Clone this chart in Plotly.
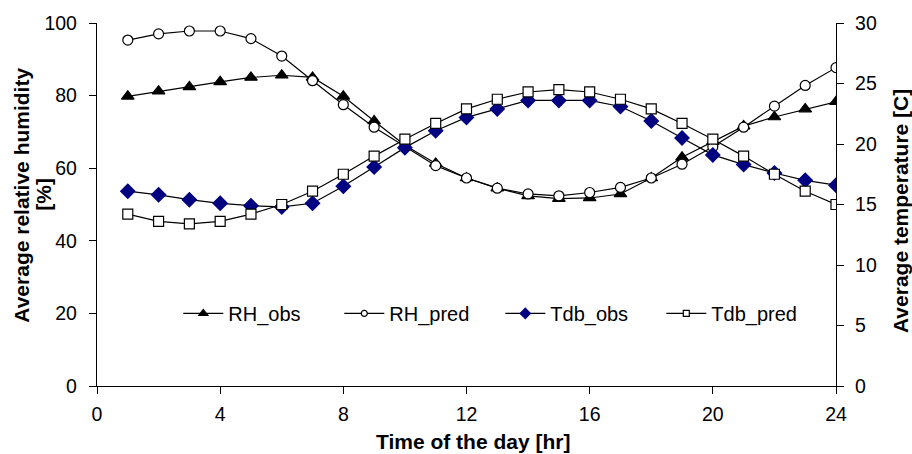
import plotly.graph_objects as go

hours = list(range(1, 25))
rh_obs = [79.8, 81.2, 82.4, 83.8, 85.0, 85.6, 85.0, 79.8, 73.0, 66.3, 61.3, 57.3,
          54.5, 52.4, 51.6, 51.8, 52.9, 57.3, 63.0, 67.3, 71.6, 74.1, 76.3, 78.3]
rh_pred = [95.3, 97.0, 97.8, 97.8, 95.7, 90.9, 84.1, 77.5, 71.3, 66.0, 60.7, 57.3,
           54.5, 52.9, 52.4, 53.3, 54.7, 57.3, 61.1, 65.9, 71.3, 77.1, 82.8, 87.7]
tdb_obs = [16.1, 15.8, 15.4, 15.1, 14.9, 14.8, 15.1, 16.5, 18.1, 19.7, 21.1, 22.2,
           22.9, 23.6, 23.6, 23.6, 23.1, 21.9, 20.5, 19.1, 18.3, 17.6, 17.0, 16.6]
tdb_pred = [14.2, 13.6, 13.4, 13.6, 14.2, 15.0, 16.1, 17.5, 19.0, 20.4, 21.7, 22.9,
            23.7, 24.3, 24.5, 24.3, 23.7, 22.9, 21.7, 20.4, 19.0, 17.5, 16.1, 15.0]
x_ticks = [0, 4, 8, 12, 16, 20, 24]
rh_ticks = [0, 20, 40, 60, 80, 100]
t_ticks = [0, 5, 10, 15, 20, 25, 30]

FONT = "Liberation Sans, Arial, sans-serif"
line = dict(color="black", width=1.2)

series = [
    ("RH_obs", rh_obs, "y", dict(symbol="triangle-up", color="black", lc="black"), 11, 8),
    ("RH_pred", rh_pred, "y", dict(symbol="circle", color="white", lc="black"), 10, 6),
    ("Tdb_obs", tdb_obs, "y2", dict(symbol="diamond", color="#000080", lc="#000080"), 11, 8),
    ("Tdb_pred", tdb_pred, "y2", dict(symbol="square", color="white", lc="black"), 10, 6),
]

fig = go.Figure()
for name, vals, ax, m, size, lsize in series:
    fig.add_trace(go.Scatter(
        x=hours, y=vals, name=name, mode="lines+markers", line=line, yaxis=ax,
        showlegend=False,
        marker=dict(symbol=m["symbol"], size=size, color=m["color"],
                    line=dict(color=m["lc"], width=1.2))))
for name, vals, ax, m, size, lsize in series:
    # legend entry with the smaller legend symbol
    fig.add_trace(go.Scatter(
        x=[None], y=[None], name=name, mode="lines+markers", line=line, yaxis=ax,
        marker=dict(symbol=m["symbol"], size=lsize, color=m["color"],
                    line=dict(color=m["lc"], width=1.2))))

axis_common = dict(showgrid=False, zeroline=False, showline=True, linecolor="black",
                   linewidth=1.3, ticks="outside", ticklen=7, tickcolor="black",
                   tickwidth=1.2,
                   tickfont=dict(family=FONT, size=19.5, color="black"))

fig.update_layout(
    width=912, height=454,
    margin=dict(l=97, r=76, t=21, b=68),
    paper_bgcolor="white", plot_bgcolor="white",
    font=dict(family=FONT, color="black"),
    xaxis=dict(range=[0, 24], tickmode="array", tickvals=x_ticks,
               ticklabelstandoff=3, **axis_common),
    yaxis=dict(range=[0, 100], tickmode="array", tickvals=rh_ticks,
               ticklabelstandoff=8, **axis_common),
    yaxis2=dict(range=[0, 30], overlaying="y", side="right",
                tickmode="array", tickvals=t_ticks,
                ticklabelstandoff=7, **axis_common),
    yaxis3=dict(range=[0, 30], overlaying="y", side="right", anchor="x",
                tickmode="array", tickvals=t_ticks, showticklabels=False,
                showline=False, showgrid=False, zeroline=False,
                ticks="inside", ticklen=6, tickcolor="black", tickwidth=1.2),
    legend=dict(orientation="h", x=0.11, y=0.2, xanchor="left", yanchor="middle",
                bgcolor="rgba(0,0,0,0)", font=dict(family=FONT, size=20),
                entrywidth=106, entrywidthmode="pixels", itemwidth=40),
    showlegend=True,
    annotations=[
        dict(text="<b>Time of the day [hr]</b>", xref="paper", yref="paper",
             x=0.509, y=-0.152, xanchor="center", yanchor="middle", showarrow=False,
             font=dict(family=FONT, size=21, color="black")),
        dict(text="<b>Average relative humidity</b>", xref="paper", yref="paper",
             x=-0.1015, y=0.527, xanchor="center", yanchor="middle", showarrow=False,
             textangle=-90, font=dict(family=FONT, size=21, color="black")),
        dict(text="<b>[%]</b>", xref="paper", yref="paper",
             x=-0.0717, y=0.527, xanchor="center", yanchor="middle", showarrow=False,
             textangle=-90, font=dict(family=FONT, size=21, color="black")),
        dict(text="<b>Average temperature [C]</b>", xref="paper", yref="paper",
             x=1.0866, y=0.482, xanchor="center", yanchor="middle", showarrow=False,
             textangle=-90, font=dict(family=FONT, size=21, color="black")),
    ],
)

fig.write_html("out.html")
